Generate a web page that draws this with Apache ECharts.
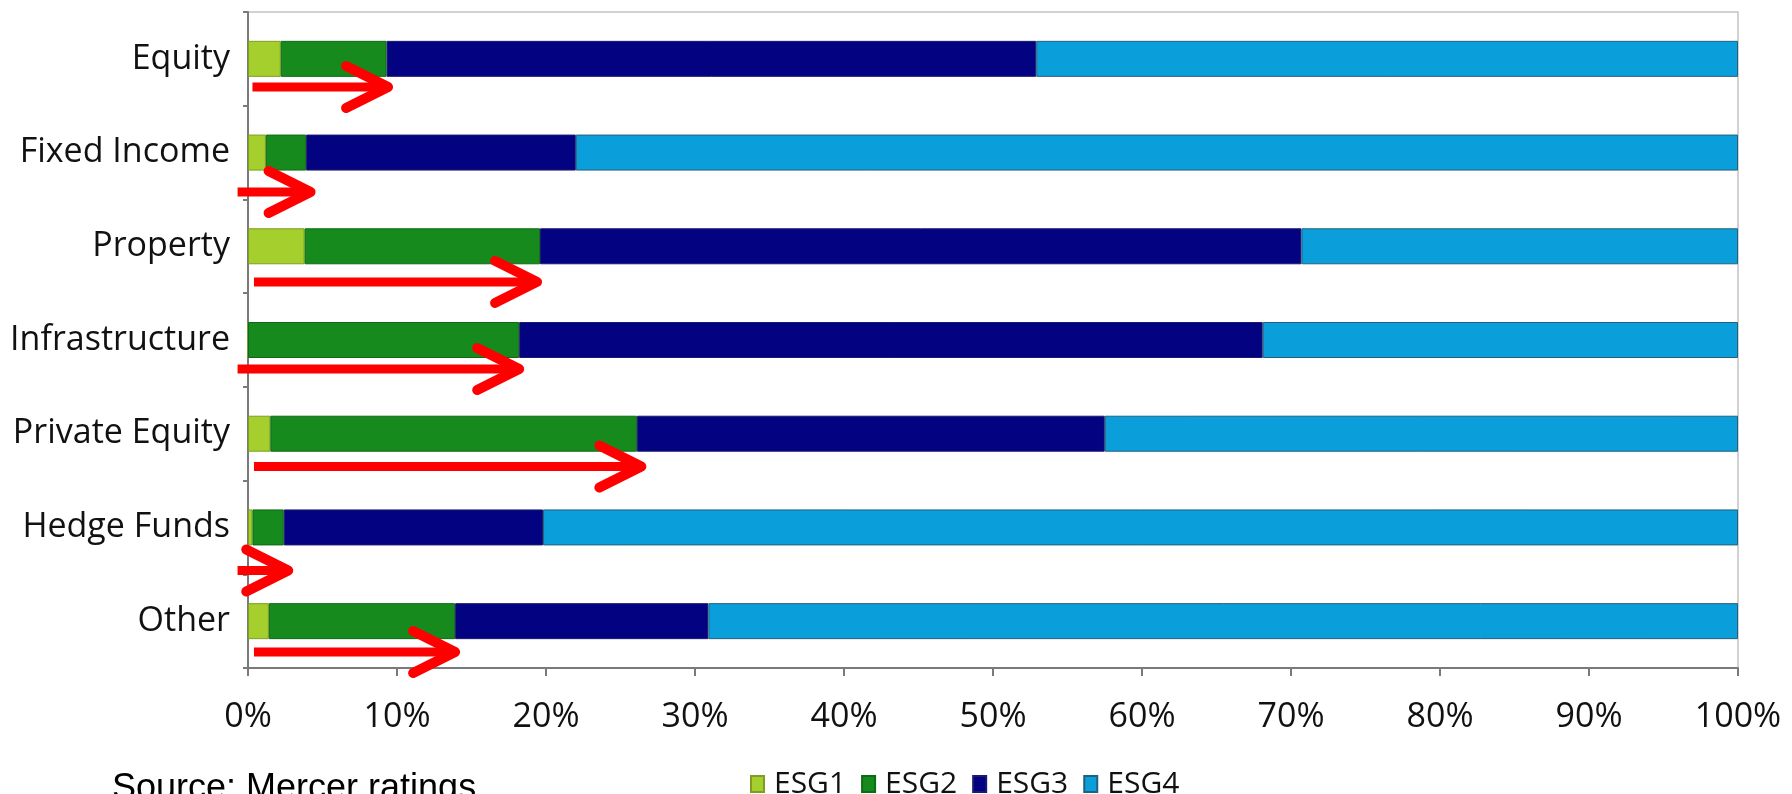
<!DOCTYPE html>
<html>
<head>
<meta charset="utf-8">
<title>ESG ratings by asset class</title>
<script src="https://cdn.jsdelivr.net/npm/echarts@6/dist/echarts.min.js"></script>
<style>
  html, body { margin: 0; padding: 0; background: #ffffff; }
  #chart { width: 1792px; height: 794px; }
</style>
</head>
<body>
<div id="chart"></div>
<script>
// Asset classes, top to bottom
const categories = ['Equity', 'Fixed Income', 'Property', 'Infrastructure', 'Private Equity', 'Hedge Funds', 'Other'];

// Share of strategies in each ESG rating band (%)
const esg1 = [2.2, 1.2, 3.8, 0, 1.5, 0.3, 1.4];
const esg2 = [7.1, 2.7, 15.8, 18.2, 24.6, 2.1, 12.5];
const esg3 = [43.6, 18.1, 51.1, 49.9, 31.4, 17.4, 17.0];
const esg4 = [47.1, 78.0, 29.3, 31.9, 42.5, 80.2, 69.1];

// Highlight arrows: start and end value (%) for each asset class
const arrowFrom = [0.3, -0.7, 0.4, -0.7, 0.4, -0.7, 0.4];
const arrowTo = [9.4, 4.2, 19.4, 18.2, 26.4, 2.7, 13.9];

// Axis tick labels
const xTicks = [0, 10, 20, 30, 40, 50, 60, 70, 80, 90, 100];

// Layout: how far below the bar centre each arrow sits (fraction of a row)
const arrowDrop = [0.30, 0.42, 0.38, 0.31, 0.35, 0.46, 0.33];

const seriesNames = ['ESG1', 'ESG2', 'ESG3', 'ESG4'];
const seriesData = [esg1, esg2, esg3, esg4];
const fills = ['#a4cf2c', '#178a1e', '#030381', '#0a9fda'];
const edges = ['#7d9e22', '#0f6a15', '#1a1a70', '#22607e'];

const axisFont = '"Open Sans", "DejaVu Sans", sans-serif';

const chart = echarts.init(document.getElementById('chart'), null, { renderer: 'canvas' });

const barSeries = seriesNames.map((name, i) => ({
  name: name,
  type: 'bar',
  stack: 'total',
  barWidth: 36,
  data: seriesData[i],
  itemStyle: { color: fills[i], borderColor: edges[i], borderWidth: 1 },
  emphasis: { disabled: true },
  z: 2
}));

const arrowSeries = {
  name: 'arrows',
  type: 'custom',
  clip: false,
  z: 5,
  silent: true,
  encode: { x: [0, 1], y: 2 },
  data: categories.map((c, i) => [arrowFrom[i], arrowTo[i], i]),
  renderItem: function (params, api) {
    const idx = api.value(2);
    const band = api.size([0, 1])[1];
    const a = api.coord([api.value(0), idx]);
    const b = api.coord([api.value(1), idx]);
    const y = a[1] + arrowDrop[params.dataIndex] * band;
    const headLen = 42;
    const headHalf = 21;
    return {
      type: 'group',
      children: [
        {
          type: 'line',
          shape: { x1: a[0], y1: y, x2: b[0] - 3, y2: y },
          style: { stroke: '#ff0000', lineWidth: 9, lineCap: 'butt' }
        },
        {
          type: 'polyline',
          shape: { points: [[b[0] - headLen, y - headHalf], [b[0], y], [b[0] - headLen, y + headHalf]] },
          style: { stroke: '#ff0000', fill: null, lineWidth: 10, lineCap: 'round', lineJoin: 'round' }
        }
      ]
    };
  }
};

const option = {
  backgroundColor: '#ffffff',
  animation: false,
  grid: {
    left: 248,
    right: 54,
    top: 12,
    bottom: 126,
    show: true,
    borderColor: '#c4c4c4',
    borderWidth: 1.5,
    backgroundColor: 'transparent'
  },
  legend: {
    data: seriesNames,
    left: 745,
    top: 764,
    itemWidth: 13,
    itemHeight: 16,
    itemGap: 15,
    icon: 'rect',
    textStyle: { fontFamily: axisFont, fontSize: 30, color: '#111111', padding: [0, 0, 0, 5] },
    selectedMode: false
  },
  xAxis: {
    type: 'value',
    min: xTicks[0],
    max: xTicks[xTicks.length - 1],
    interval: xTicks[1] - xTicks[0],
    splitLine: { show: false },
    axisLine: { show: true, lineStyle: { color: '#7a7a7a', width: 2 } },
    axisTick: { show: true, length: 8, lineStyle: { color: '#7a7a7a', width: 2 } },
    axisLabel: {
      formatter: '{value}%',
      fontFamily: axisFont,
      fontSize: 34,
      color: '#111111',
      margin: 32
    }
  },
  yAxis: {
    type: 'category',
    data: categories,
    inverse: true,
    axisLine: { show: true, lineStyle: { color: '#7a7a7a', width: 2 } },
    axisTick: { show: true, length: 5, lineStyle: { color: '#7a7a7a', width: 2 } },
    axisLabel: {
      fontFamily: axisFont,
      fontSize: 34,
      color: '#111111',
      margin: 18
    }
  },
  graphic: [
    {
      type: 'text',
      left: 112,
      top: 771,
      style: {
        text: 'Source: Mercer ratings',
        font: '36px "Liberation Sans", Arial, sans-serif',
        fill: '#000000'
      }
    }
  ],
  series: barSeries.concat([arrowSeries])
};

chart.setOption(option);
</script>
</body>
</html>
